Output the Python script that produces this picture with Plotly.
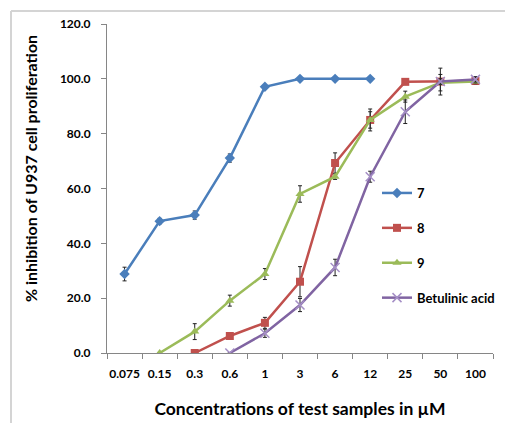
import plotly.graph_objects as go

categories = ["0.075", "0.15", "0.3", "0.6", "1", "3", "6", "12", "25", "50", "100"]

s7_vals = [28.8, 48.1, 50.3, 71.1, 97.1, 100.0, 100.0, 100.0, None, None, None]
s7_err = [2.5, 1.0, 1.5, 1.5, 0.5, 0.3, 0.3, 0.3, 0, 0, 0]

s8_vals = [None, None, 0.0, 6.2, 11.0, 26.0, 69.3, 85.0, 98.9, 99.0, 99.2]
s8_err = [0, 0, 0, 0.8, 2.0, 5.5, 3.7, 4.0, 0.5, 4.9, 0.8]

s9_vals = [None, 0.0, 7.8, 19.1, 28.8, 58.0, 64.3, 85.0, 93.5, 98.6, 99.0]
s9_err = [0, 0, 2.9, 2.0, 2.0, 3.0, 1.0, 3.0, 2.0, 3.0, 0.8]

ba_vals = [None, None, None, 0.0, 7.2, 17.5, 31.2, 64.3, 88.0, 99.0, 99.8]
ba_err = [0, 0, 0, 0, 1.5, 2.4, 3.0, 2.0, 4.3, 1.0, 1.0]

series_names = ["7", "8", "9", "Betulinic acid"]
colors = ["#4A7EBB", "#C0504D", "#9BBB59", "#8064A2"]
symbols = ["diamond", "square", "triangle-up", "x-thin"]

y_title = "% inhibition of U937 cell proliferation"
x_title = "Concentrations of test samples in µM"

FONT = "Lato"

fig = go.Figure()
data = [(s7_vals, s7_err), (s8_vals, s8_err), (s9_vals, s9_err), (ba_vals, ba_err)]
for i, (vals, err) in enumerate(data):
    marker = dict(symbol=symbols[i], color=colors[i], size=8)
    if symbols[i] == "x-thin":
        marker = dict(symbol="x-thin", size=9, line=dict(color="#A58FC6", width=1.5), color=colors[i])
    fig.add_trace(go.Scatter(
        x=categories, y=vals, name=series_names[i], mode="lines+markers",
        line=dict(color=colors[i], width=2.5),
        marker=marker,
        error_y=dict(type="data", array=err, visible=True, color="#222222", thickness=1, width=2),
        connectgaps=False, legendgroup=series_names[i],
    ))

# page has an 8px body margin; figure is sized to the visible area
W, H = 505, 415
OFF = 8
L, R, T, B = 107 - OFF, 20, 24 - OFF, 70
PW = W - L - R
PH = H - T - B

def px_x(p):
    return (p - OFF - L) / PW

def px_y(p):
    return (H - B - (p - OFF)) / PH

fig.update_layout(
    width=W, height=H,
    margin=dict(l=L, r=R, t=T, b=B, autoexpand=False),
    paper_bgcolor="white", plot_bgcolor="white",
    font=dict(family=FONT, color="#000000", size=12, weight="bold"),
    showlegend=True,
    legend=dict(
        xref="container", yref="container",
        x=369 / W, y=1 - 170 / H, xanchor="left", yanchor="top",
        font=dict(family=FONT, size=13, color="#000000", weight="bold"),
        tracegroupgap=15, itemwidth=30, bgcolor="rgba(0,0,0,0)",
    ),
    xaxis=dict(
        type="category", categoryorder="array", categoryarray=categories,
        range=[-0.5, 10.5], showgrid=False, zeroline=False,
        showline=True, linecolor="#868686", linewidth=1,
        ticks="outside", tickson="boundaries", ticklen=5, tickcolor="#868686",
        tickfont=dict(family=FONT, size=12, weight="bold"), tickangle=0,
        ticklabelstandoff=10,
        title=dict(text=x_title,
                   font=dict(family=FONT, size=17.5, weight="bold"), standoff=22),
    ),
    yaxis=dict(
        range=[0, 120], dtick=20, tickformat=".1f", showgrid=False, zeroline=False,
        showline=True, linecolor="#868686", linewidth=1,
        ticks="outside", ticklen=5, tickcolor="#868686",
        tickfont=dict(family=FONT, size=12, weight="bold"),
        ticklabelstandoff=8,
    ),
    annotations=[
        dict(text=y_title, xref="paper", yref="paper",
             x=px_x(30), y=px_y(169), xanchor="center", yanchor="middle",
             textangle=-90, showarrow=False,
             font=dict(family=FONT, size=16, weight="bold", color="#000000")),
    ],
    shapes=[
        dict(type="line", xref="paper", yref="paper",
             x0=px_x(11), x1=px_x(11), y0=px_y(11), y1=px_y(430),
             line=dict(color="#D4D4D4", width=2)),
        dict(type="line", xref="paper", yref="paper",
             x0=px_x(11), x1=px_x(520), y0=px_y(11), y1=px_y(11),
             line=dict(color="#D4D4D4", width=2)),
    ],
)

fig.write_html("out.html")
